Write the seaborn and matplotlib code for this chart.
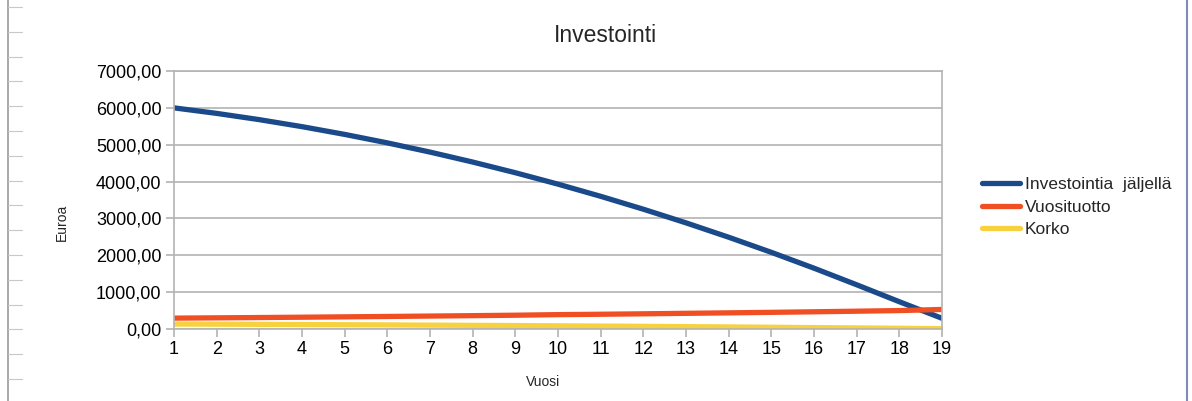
import numpy as np
import pandas as pd
import matplotlib
matplotlib.use("Agg")
import matplotlib.pyplot as plt
from matplotlib.lines import Line2D
import seaborn as sns

# values
vuosi = list(range(1, 20))
jaljella = [6000, 5850, 5680, 5490, 5280, 5050, 4800, 4530, 4240, 3930,
            3600, 3250, 2880, 2490, 2080, 1650, 1200, 740, 290]
vuosituotto = [295, 303, 311, 320, 330, 340, 351, 362, 374, 390,
               400, 412, 425, 438, 452, 467, 483, 500, 530]
korko = [135, 131, 126, 121, 116, 111, 105, 99, 93, 86,
         79, 72, 64, 56, 47, 38, 29, 19, 9]
sarjat = ["Investointia  jäljellä", "Vuosituotto", "Korko"]
varit = ["#1b4a8a", "#f04e23", "#f7d23e"]

df = pd.DataFrame({
    "Vuosi": vuosi * 3,
    "Euroa": jaljella + vuosituotto + korko,
    "sarja": [sarjat[0]] * 19 + [sarjat[1]] * 19 + [sarjat[2]] * 19,
})

sns.set_theme(style="white")
plt.rcParams["font.family"] = ["Liberation Sans", "DejaVu Sans"]

fig = plt.figure(figsize=(11.92, 4.01), dpi=100)
W, H = 1192, 401
ax = fig.add_axes([174 / W, 1 - 329 / H, (942 - 174) / W, (329 - 71) / H])

sns.lineplot(data=df, x="Vuosi", y="Euroa", hue="sarja", hue_order=sarjat,
             palette=varit, linewidth=3.8, ax=ax, legend=False)

ax.set_xlim(1, 19)
ax.set_ylim(0, 7000)
ax.set_xticks(vuosi)
ax.set_yticks(range(0, 7001, 1000))
ax.set_yticklabels([f"{v:.2f}".replace(".", ",") for v in range(0, 7001, 1000)])
ax.grid(axis="y", color="#b3b3b3", linewidth=1.2)
ax.set_axisbelow(True)
for s in ax.spines.values():
    s.set_color("#b3b3b3")
    s.set_linewidth(1.2)
ax.tick_params(axis="both", direction="out", length=6, width=1.2, color="#b3b3b3",
               labelsize=13, labelcolor="black", pad=3)
ax.tick_params(axis="x", pad=3)
ax.tick_params(left=True, bottom=True)
ax.set_xlabel("")
ax.set_ylabel("")

fig.text(605 / W, 1 - 35 / H, "Investointi", ha="center", va="center", fontsize=16.5)
fig.text(62 / W, 1 - 222 / H, "Euroa", ha="center", va="center", rotation=90, fontsize=10)
fig.text(543 / W, 1 - 382 / H, "Vuosi", ha="center", va="center", fontsize=10)

handles = [Line2D([], [], color=c, linewidth=3.8) for c in varit]
fig.legend(handles, sarjat, loc="center left", bbox_to_anchor=(973 / W, 1 - 207 / H),
           frameon=False, fontsize=12.5, handlelength=2.2, handletextpad=0.3,
           labelspacing=0.4, borderpad=0)

# spreadsheet frame around the chart
fig.add_artist(Line2D([8 / W, 8 / W], [0, 1], color="#9a9a9a", linewidth=1.2))
for y in np.arange(7, H, 24.8):
    fig.add_artist(Line2D([8 / W, 22 / W], [1 - y / H] * 2, color="#c8c8c8", linewidth=0.8))
fig.add_artist(Line2D([1187 / W, 1187 / W], [0, 1], color="#7f8db8", linewidth=1.5))

fig.savefig("out.png", dpi=100)
